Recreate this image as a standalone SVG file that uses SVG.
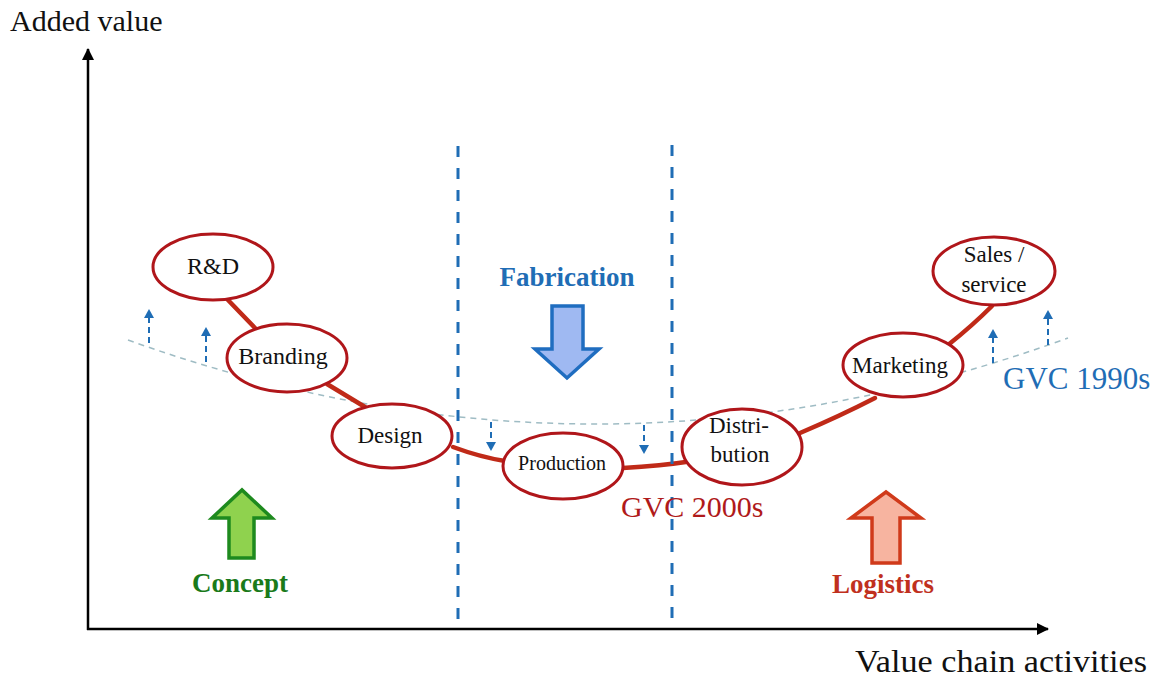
<svg xmlns="http://www.w3.org/2000/svg" width="1159" height="679" viewBox="0 0 1159 679">
<defs>
<style>
.axis{stroke:#000;stroke-width:2.5;fill:none}
.vdash{stroke:#1f6db5;stroke-width:3;stroke-dasharray:11 11;fill:none}
.gvc90{stroke:#9fbcc4;stroke-width:1.5;stroke-dasharray:6 5;fill:none}
.chain{stroke:#c02a18;stroke-width:4.5;fill:none;stroke-linecap:round}
.node ellipse{fill:#fff;stroke:#b0161a;stroke-width:3}
.lbl{font-family:"Liberation Serif","Times New Roman",serif;fill:#111;text-anchor:middle}
.small{stroke:#1f6db5;stroke-width:2;stroke-dasharray:6 4;fill:none}
.big{font-family:"Liberation Serif","Times New Roman",serif;font-weight:bold;font-size:27px;text-anchor:middle}
.serif{font-family:"Liberation Serif","Times New Roman",serif}
</style>
<marker id="ah" markerUnits="userSpaceOnUse" markerWidth="12" markerHeight="12" viewBox="0 0 12 12" refX="11" refY="6" orient="auto">
<path d="M0,0 L12,6 L0,12 z" fill="#000"/>
</marker>
<marker id="bh" markerUnits="userSpaceOnUse" markerWidth="10" markerHeight="10" viewBox="0 0 10 10" refX="2" refY="5" orient="auto">
<path d="M0,0 L9,5 L0,10 z" fill="#1f6db5"/>
</marker>
</defs>
<rect width="1159" height="679" fill="#fff"/>

<g id="axes">
<line class="axis" x1="88" y1="630" x2="88" y2="49" marker-end="url(#ah)"/>
<line class="axis" x1="87" y1="629" x2="1048" y2="629" marker-end="url(#ah)"/>
<text class="serif" x="10" y="31" font-size="30" fill="#111">Added value</text>
<text class="serif" x="855" y="672" font-size="32" fill="#111" textLength="292" lengthAdjust="spacingAndGlyphs">Value chain activities</text>
</g>

<g id="gvc1990">
<path class="gvc90" d="M128,340 Q598,509 1068,338"/>
<text class="serif" x="1003" y="389" font-size="31" fill="#1f6db5">GVC 1990s</text>
</g>

<g id="connectors">
<path class="chain" d="M228,300 L255,328"/>
<path class="chain" d="M327,384 L365,407"/>
<path class="chain" d="M453,447 Q480,457 505,461"/>
<path class="chain" d="M623,468 Q660,466 693,461"/>
<path class="chain" d="M800,433 Q840,416 875,398"/>
<path class="chain" d="M948,345 Q972,326 992,306"/>
</g>

<g id="shift-arrows">
<line class="small" x1="149" y1="343" x2="149" y2="316" marker-end="url(#bh)"/>
<line class="small" x1="206" y1="362" x2="206" y2="334" marker-end="url(#bh)"/>
<line class="small" x1="491" y1="422" x2="491" y2="444" marker-end="url(#bh)"/>
<line class="small" x1="644" y1="425" x2="644" y2="447" marker-end="url(#bh)"/>
<line class="small" x1="993" y1="363" x2="993" y2="336" marker-end="url(#bh)"/>
<line class="small" x1="1048" y1="345" x2="1048" y2="317" marker-end="url(#bh)"/>
</g>

<g id="node-rd" class="node"><ellipse cx="213" cy="267" rx="60" ry="33"/><text class="lbl" x="213" y="274" font-size="24">R&amp;D</text></g>
<g id="node-branding" class="node"><ellipse cx="287" cy="358" rx="60" ry="34"/><text class="lbl" x="283" y="364" font-size="24">Branding</text></g>
<g id="node-design" class="node"><ellipse cx="392" cy="436" rx="60" ry="32"/><text class="lbl" x="390" y="443" font-size="23">Design</text></g>
<g id="node-production" class="node"><ellipse cx="563" cy="466" rx="60" ry="33"/><text class="lbl" x="562" y="470" font-size="20">Production</text></g>
<g id="node-distribution" class="node"><ellipse cx="742" cy="447" rx="60" ry="38"/><text class="lbl" x="739" y="433" font-size="23">Distri-</text><text class="lbl" x="740" y="462" font-size="23">bution</text></g>
<g id="node-marketing" class="node"><ellipse cx="903" cy="365" rx="60" ry="32"/><text class="lbl" x="900" y="373" font-size="23">Marketing</text></g>
<g id="node-sales" class="node"><ellipse cx="994" cy="271" rx="61" ry="34"/><text class="lbl" x="994" y="262" font-size="23">Sales /</text><text class="lbl" x="994" y="292" font-size="23">service</text></g>

<g id="dividers">
<line class="vdash" x1="458" y1="146" x2="458" y2="622"/>
<line class="vdash" x1="672" y1="145" x2="672" y2="622"/>
</g>

<g id="fabrication">
<text class="big" x="567" y="286" fill="#1f6db5">Fabrication</text>
<path d="M552,306 L583,306 L583,349 L599,349 L567,378 L535,349 L552,349 Z" fill="#9fb9f2" stroke="#1f6dc0" stroke-width="3.5" stroke-linejoin="miter"/>
</g>

<g id="concept">
<path d="M229,558 L254,558 L254,518 L272,518 L242,490 L212,518 L229,518 Z" fill="#8fd24e" stroke="#1e8a1e" stroke-width="3.5"/>
<text class="big" x="240" y="592" fill="#1a7a1a">Concept</text>
</g>

<g id="logistics">
<path d="M872,563 L900,563 L900,518 L921,518 L886,492 L851,518 L872,518 Z" fill="#f7b4a0" stroke="#d03a1a" stroke-width="3.5"/>
<text class="big" x="883" y="593" fill="#c0301e">Logistics</text>
</g>

<g id="gvc2000">
<text class="serif" x="621" y="517" font-size="30" fill="#b01a1a">GVC 2000s</text>
</g>
</svg>
